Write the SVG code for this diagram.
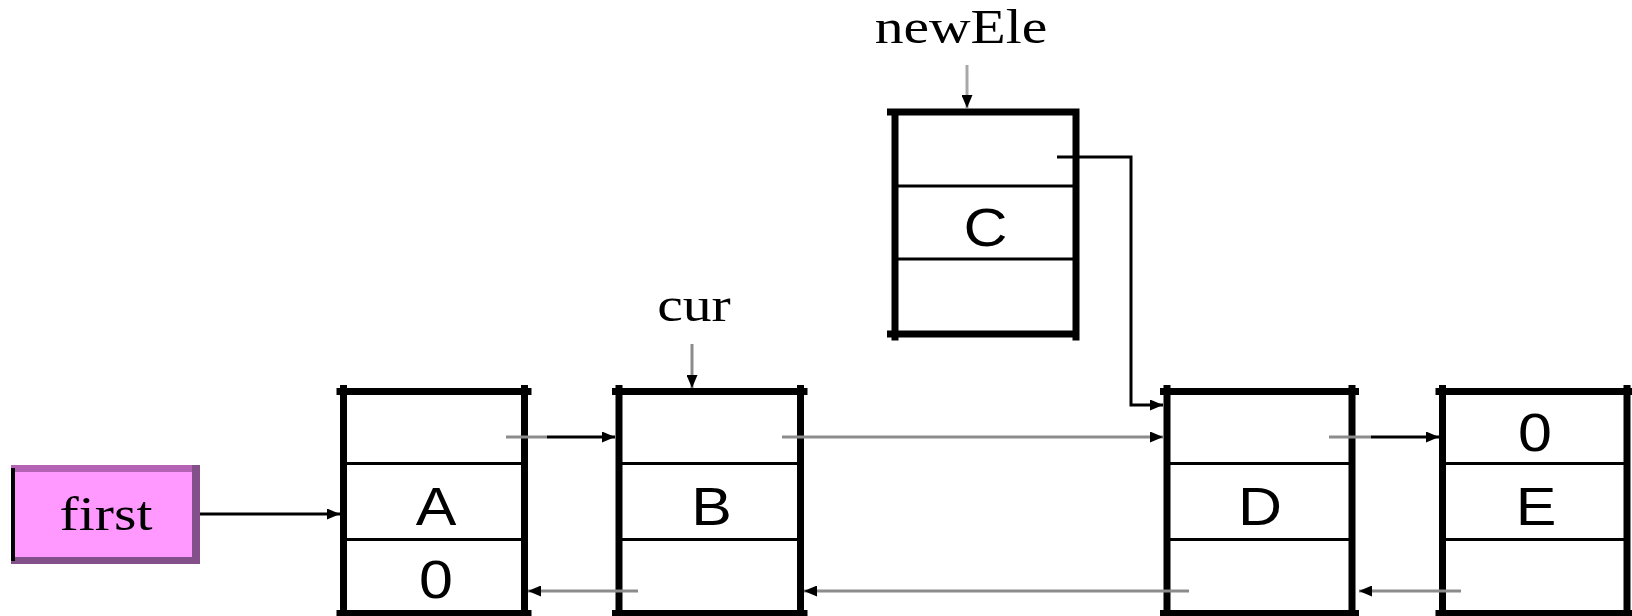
<svg xmlns="http://www.w3.org/2000/svg" width="1632" height="616" viewBox="0 0 1632 616">
<style>
.bg{fill:#fff;stroke:none}
.frame{fill:none;stroke:#000;stroke-width:7}
.div{fill:none;stroke:#000;stroke-width:3}
.sans{font-family:"Liberation Sans",Arial,sans-serif;font-size:53px;text-anchor:middle;fill:#000}
.serif{font-family:"Liberation Serif","Times New Roman",serif;font-size:48px;text-anchor:middle;fill:#000}
.blk{fill:none;stroke:#000;stroke-width:3}
.gry{fill:none;stroke:#8c8c8c;stroke-width:3}
.lgry{fill:none;stroke:#a8a8a8;stroke-width:3}
</style>
<defs>
<marker id="ah" viewBox="0 0 13 11" refX="13" refY="5.5" markerWidth="13" markerHeight="11" markerUnits="userSpaceOnUse" orient="auto">
<path d="M0,0L13,5.5L0,11z" fill="#000"/>
</marker>
</defs>
<rect width="1632" height="616" fill="#fff"/>

<g id="first">
<rect x="11" y="465" width="189" height="99" fill="#ff99ff"/>
<path d="M11,468.5H200" stroke="#b463b4" stroke-width="7" fill="none"/>
<path d="M196,465V564" stroke="#84508a" stroke-width="8" fill="none"/>
<path d="M11,560.5H200" stroke="#84508a" stroke-width="7" fill="none"/>
<path d="M13,468V561" stroke="#000" stroke-width="4" fill="none"/>
<g transform="translate(106,530) scale(1.2,1)"><text class="serif" x="0" y="0">first</text></g>
</g>

<g id="nodeA">
<rect class="bg" x="343.5" y="391.5" width="181" height="222"/>
<path class="div" d="M343.5,463.5H524.5M343.5,539.5H524.5"/>
<path class="frame" d="M336.5,391.5H531.5M336.5,613.5H531.5M343.5,385V620M524.5,385V620"/>
<g transform="translate(436,525) scale(1.15,1)"><text class="sans" x="0" y="0">A</text></g>
<g transform="translate(436,598) scale(1.15,1)"><text class="sans" x="0" y="0">0</text></g>
</g>

<g id="nodeB">
<rect class="bg" x="619" y="391.5" width="181.5" height="222"/>
<path class="div" d="M619,463.5H800.5M619,539.5H800.5"/>
<path class="frame" d="M612,391.5H807.5M612,613.5H807.5M619,385V620M800.5,385V620"/>
<g transform="translate(711.5,525) scale(1.15,1)"><text class="sans" x="0" y="0">B</text></g>
</g>

<g id="nodeC">
<rect class="bg" x="895" y="112" width="181" height="222"/>
<path class="div" d="M895,186H1076M895,259H1076"/>
<path class="frame" d="M887,112H1079.5M887,334H1079.5M895,112V340.5M1076,112V340.5"/>
<g transform="translate(985.5,246) scale(1.15,1)"><text class="sans" x="0" y="0">C</text></g>
</g>

<g id="nodeD">
<rect class="bg" x="1167" y="391.5" width="185" height="222"/>
<path class="div" d="M1167,463.5H1352M1167,539.5H1352"/>
<path class="frame" d="M1160,391.5H1359M1160,613.5H1359M1167,385V620M1352,385V620"/>
<g transform="translate(1260,525) scale(1.15,1)"><text class="sans" x="0" y="0">D</text></g>
</g>

<g id="nodeE">
<rect class="bg" x="1442.5" y="391.5" width="184.5" height="222"/>
<path class="div" d="M1442.5,463.5H1627M1442.5,539.5H1627"/>
<path class="frame" d="M1435.5,391.5H1634M1435.5,613.5H1634M1442.5,385V620M1627,385V620"/>
<g transform="translate(1535,451) scale(1.15,1)"><text class="sans" x="0" y="0">0</text></g>
<g transform="translate(1536,525) scale(1.15,1)"><text class="sans" x="0" y="0">E</text></g>
</g>

<g id="label-cur">
<g transform="translate(694,321) scale(1.2,1)"><text class="serif" x="0" y="0">cur</text></g>
</g>

<g id="label-newEle">
<g transform="translate(961,43) scale(1.2,1)"><text class="serif" x="0" y="0">newEle</text></g>
</g>

<g id="connectors">
<path class="blk" d="M200,514H340" marker-end="url(#ah)"/>
<path class="gry" d="M506,437H547"/>
<path class="blk" d="M547,437H615" marker-end="url(#ah)"/>
<path class="gry" d="M782,437H1163" marker-end="url(#ah)"/>
<path class="blk" d="M1057,157H1131V405H1163" marker-end="url(#ah)"/>
<path class="gry" d="M1329,437H1371"/>
<path class="blk" d="M1371,437H1439" marker-end="url(#ah)"/>
<path class="gry" d="M1461,591H1359" marker-end="url(#ah)"/>
<path class="gry" d="M1189,591H804" marker-end="url(#ah)"/>
<path class="gry" d="M638,591H528" marker-end="url(#ah)"/>
<path class="gry" d="M692,344V388" marker-end="url(#ah)"/>
<path class="lgry" d="M967,65V108" marker-end="url(#ah)"/>
</g>
</svg>
